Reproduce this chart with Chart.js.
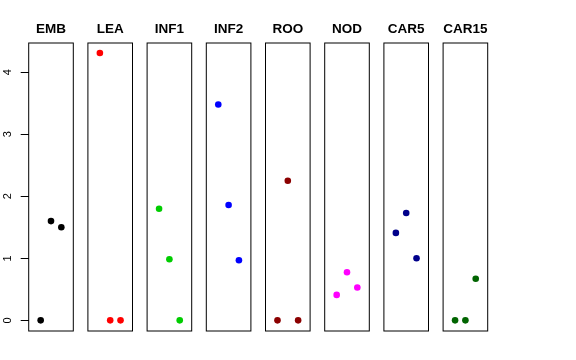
<!DOCTYPE html>
<html>
<head>
<meta charset="utf-8">
<script src="https://cdn.jsdelivr.net/npm/chart.js@4.4.1/dist/chart.umd.min.js"></script>
<style>
  html, body { margin: 0; padding: 0; background: #fff; }
  #wrap { position: relative; width: 576px; height: 360px; }
  #wrap canvas { position: absolute; left: 0; top: 0; }
</style>
</head>
<body>
<div id="wrap"></div>
<script>
'use strict';

// data
const panels = ['EMB', 'LEA', 'INF1', 'INF2', 'ROO', 'NOD', 'CAR5', 'CAR15'];
const colors = ['#000000', '#FF0000', '#00CD00', '#0000FF', '#8B0000', '#FF00FF', '#00008B', '#006400'];
const positions = [1, 2, 3];
const embValues = [0, 1.60, 1.50];
const leaValues = [4.31, 0, 0];
const inf1Values = [1.80, 0.985, 0];
const inf2Values = [3.48, 1.86, 0.97];
const rooValues = [0, 2.25, 0];
const nodValues = [0.41, 0.775, 0.53];
const car5Values = [1.41, 1.73, 1.00];
const car15Values = [0, 0, 0.67];
const yTicks = [0, 1, 2, 3, 4];

const seriesValues = [embValues, leaValues, inf1Values, inf2Values, rooValues, nodValues, car5Values, car15Values];

// layout
const W = 576, H = 360;
const firstLeft = 28.7, step = 59.2, boxWidth = 44.6;
const boxBottom = 331;
const FONT = '"Liberation Sans", Helvetica, Arial, sans-serif';

// draws the panel frame, and on the first panel the rotated tick labels
const framePlugin = {
  id: 'frame',
  afterDraw(chart) {
    const {ctx, chartArea: a} = chart;
    ctx.save();
    ctx.strokeStyle = '#000';
    ctx.lineWidth = 1;
    ctx.strokeRect(a.left, a.top, a.right - a.left, a.bottom - a.top);
    const y = chart.scales.y;
    if (y.options.display) {
      ctx.fillStyle = '#000';
      ctx.font = '11px ' + FONT;
      ctx.textAlign = 'center';
      ctx.textBaseline = 'middle';
      y.ticks.forEach(t => {
        ctx.save();
        ctx.translate(8, y.getPixelForValue(t.value));
        ctx.rotate(-Math.PI / 2);
        ctx.fillText(String(t.value), 0, 0);
        ctx.restore();
      });
    }
    ctx.restore();
  }
};

const wrap = document.getElementById('wrap');

panels.forEach((name, i) => {
  const canvas = document.createElement('canvas');
  canvas.width = W;
  canvas.height = H;
  wrap.appendChild(canvas);

  const left = firstLeft + i * step;
  const first = i === 0;

  const yScale = {
    type: 'linear',
    min: -0.172,
    max: 4.472,
    display: first,
    afterBuildTicks: s => { s.ticks = yTicks.map(v => ({value: v})); },
    ticks: {display: false},
    grid: {drawOnChartArea: false, drawTicks: true, tickLength: 8, color: '#000', lineWidth: 1},
    border: {display: false}
  };
  if (first) yScale.afterFit = s => { s.width = firstLeft; };

  new Chart(canvas, {
    type: 'scatter',
    data: {
      datasets: [{
        data: positions.map((x, k) => ({x: x, y: seriesValues[i][k]})),
        backgroundColor: colors[i],
        borderColor: colors[i],
        borderWidth: 0,
        pointRadius: 3.3,
        pointHoverRadius: 3.3,
        clip: false
      }]
    },
    options: {
      responsive: false,
      animation: false,
      events: [],
      layout: {
        padding: {left: first ? 0 : left, right: W - left - boxWidth, top: 0, bottom: H - boxBottom}
      },
      plugins: {
        legend: {display: false},
        tooltip: {enabled: false},
        title: {
          display: true,
          text: name,
          fullSize: false,
          color: '#000',
          font: {family: FONT, size: 13.5, weight: 'bold', lineHeight: 1.2},
          padding: {top: 21, bottom: 5.8}
        }
      },
      scales: {
        x: {type: 'linear', min: -0.16, max: 4.16, display: false},
        y: yScale
      }
    },
    plugins: [framePlugin]
  });
});
</script>
</body>
</html>
